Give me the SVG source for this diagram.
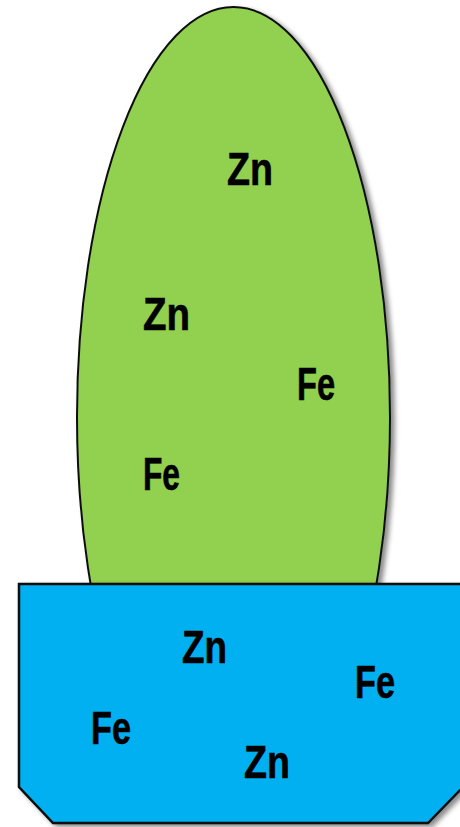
<svg xmlns="http://www.w3.org/2000/svg" width="460" height="827" viewBox="0 0 460 827">
<defs>
<filter id="sh" x="-10%" y="-10%" width="130%" height="130%">
<feDropShadow dx="4" dy="3" stdDeviation="2.5" flood-color="#000" flood-opacity="0.45"/>
</filter>
<clipPath id="top"><rect x="0" y="0" width="460" height="600"/></clipPath>
</defs>
<style>
.lbl{font-family:"Liberation Sans",Arial,sans-serif;font-weight:bold;font-size:46px;fill:#000;stroke:#000;stroke-width:0.6}
.plant{fill:#92D050;stroke:#111;stroke-width:2}
.pot{fill:#00B0F0;stroke:#111;stroke-width:2.5}
</style>
<g id="plant">
<g clip-path="url(#top)">
<ellipse class="plant" cx="233.5" cy="417" rx="156.5" ry="410" filter="url(#sh)"/>
</g>
<text class="lbl" x="227" y="185" textLength="46" lengthAdjust="spacingAndGlyphs">Zn</text>
<text class="lbl" x="143" y="330" textLength="47" lengthAdjust="spacingAndGlyphs">Zn</text>
<text class="lbl" x="297" y="400" textLength="38" lengthAdjust="spacingAndGlyphs">Fe</text>
<text class="lbl" x="143" y="490" textLength="37" lengthAdjust="spacingAndGlyphs">Fe</text>
</g>
<g id="pot">
<polygon class="pot" points="19,584 464,584 464,786 428,823 53,823 19,787" filter="url(#sh)"/>
<text class="lbl" x="182" y="663" textLength="45" lengthAdjust="spacingAndGlyphs">Zn</text>
<text class="lbl" x="355" y="698" textLength="40" lengthAdjust="spacingAndGlyphs">Fe</text>
<text class="lbl" x="91" y="744" textLength="40" lengthAdjust="spacingAndGlyphs">Fe</text>
<text class="lbl" x="244" y="778" textLength="46" lengthAdjust="spacingAndGlyphs">Zn</text>
</g>
</svg>
